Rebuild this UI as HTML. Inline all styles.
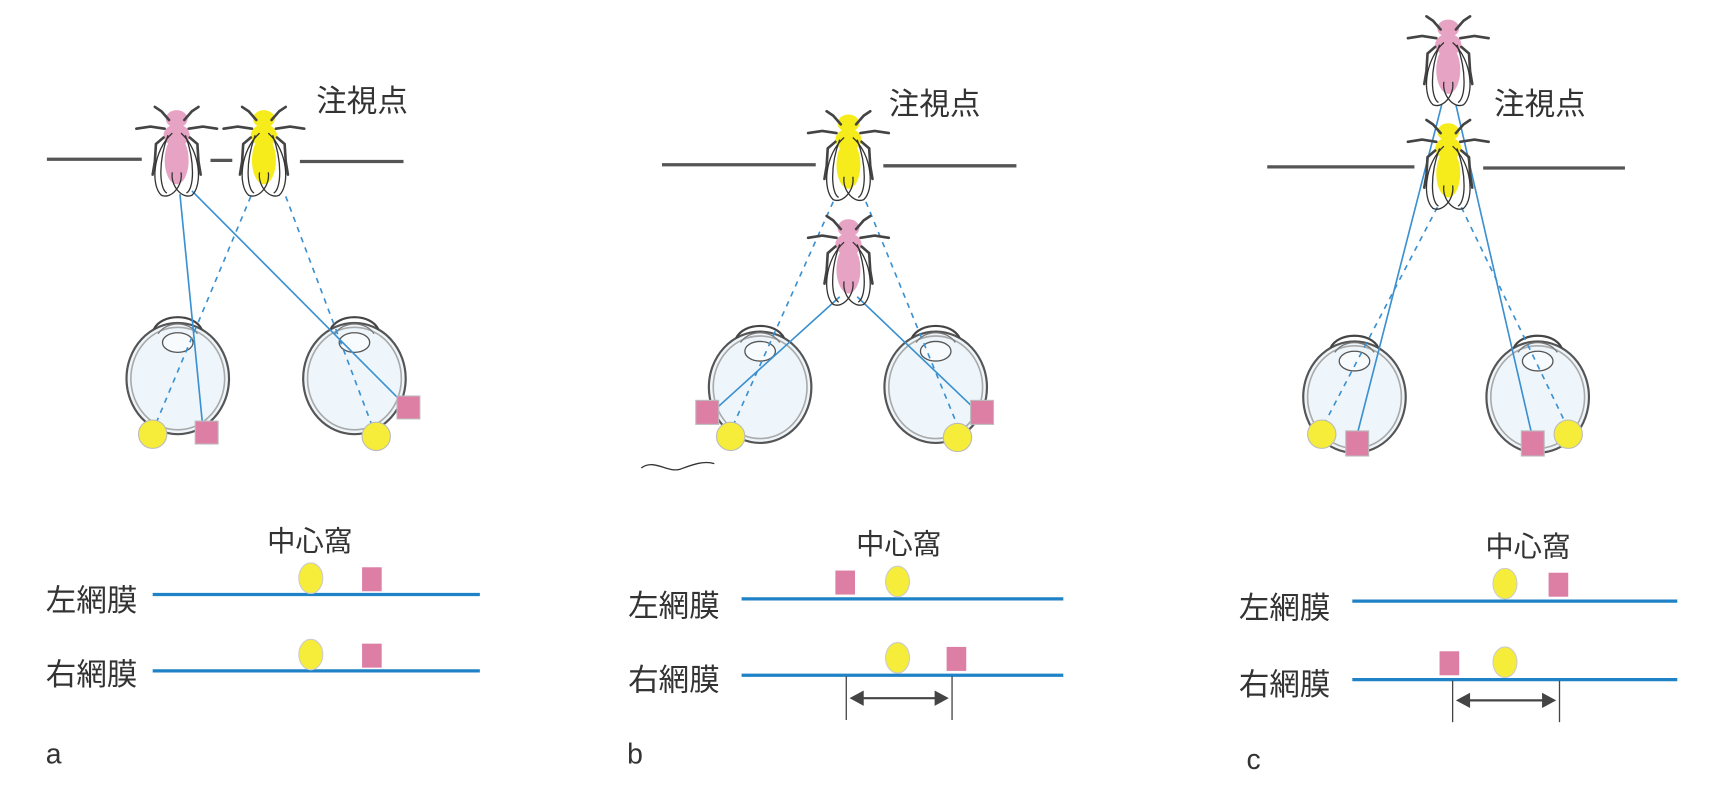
<!DOCTYPE html>
<html><head><meta charset="utf-8"><style>
html,body{margin:0;padding:0;background:#fff;}
svg{display:block;}
text{font-family:"Liberation Sans","Noto Sans CJK JP",sans-serif;fill:#333;}
</style></head><body>
<svg width="1710" height="792" viewBox="0 0 1568 726" preserveAspectRatio="none" xmlns="http://www.w3.org/2000/svg">
<defs>
<g id="flyframe">
  <g stroke="#444" stroke-width="2.4" fill="none" stroke-linecap="round">
    <path d="M-7,-28 L-14,-36 L-20,-40"/><path d="M7,-28 L14,-36 L20,-40"/>
    <path d="M-11,-20 L-24,-22 L-37,-20"/><path d="M11,-20 L24,-22 L37,-20"/>
    <path d="M-12,-12 L-19,-6 L-20,10 L-22,22"/><path d="M12,-12 L19,-6 L20,10 L22,22"/>
  </g>
  <g stroke="#333" stroke-width="1.2" fill="none">
    <path d="M-4,-16 C-22,0 -24,32 -14,41 C-5,45 6,32 4,20"/>
    <path d="M4,-16 C22,0 24,32 14,41 C5,45 -6,32 -4,20"/>
    <path d="M-8,-14 C-17,10 -16,35 -9,39"/>
    <path d="M8,-14 C17,10 16,35 9,39"/>
  </g>
</g>
<g id="eye">
  <ellipse cx="0" cy="0" rx="47" ry="51" fill="#eef6fb" stroke="#555" stroke-width="2"/>
  <ellipse cx="0" cy="0" rx="43" ry="47" fill="none" stroke="#aaa" stroke-width="1.5"/>
  <path d="M-22,-45 C-15,-60 15,-60 22,-45" fill="none" stroke="#444" stroke-width="2"/>
  <path d="M-18,-41 C-10,-53 10,-53 18,-41" fill="none" stroke="#777" stroke-width="1.2"/>
  <ellipse cx="0" cy="-33" rx="14" ry="9" fill="#f8fbfd" stroke="#555" stroke-width="1.2"/>
</g>
<g id="pinkbody"><ellipse cx="0" cy="-29" rx="10" ry="8" fill="#e7a3c3"/><ellipse cx="0" cy="-14" rx="12" ry="10" fill="#e7a3c3"/><ellipse cx="0" cy="9" rx="11" ry="22" fill="#e7a3c3"/></g>
<g id="yellowbody"><ellipse cx="0" cy="-29" rx="10" ry="8" fill="#f6ec1c"/><ellipse cx="0" cy="-14" rx="12" ry="10" fill="#f6ec1c"/><ellipse cx="0" cy="9" rx="11" ry="22" fill="#f6ec1c"/></g>
</defs>

<!-- Panel a -->
<g stroke="#555" stroke-width="3">
<line x1="43" y1="146" x2="130" y2="146"/><line x1="193" y1="147" x2="213" y2="147"/><line x1="275" y1="148" x2="370" y2="148"/>
</g>
<use href="#eye" x="163" y="347"/>
<use href="#eye" x="325" y="347"/>
<g stroke="#3a90d0" stroke-width="1.5" fill="none">
<line x1="165" y1="178" x2="186" y2="392"/>
<line x1="176" y1="175" x2="372" y2="372"/>
<line x1="230" y1="180" x2="141" y2="393" stroke-dasharray="5,5"/>
<line x1="262" y1="180" x2="343" y2="395" stroke-dasharray="5,5"/>
</g>
<g transform="translate(162,138)"><use href="#pinkbody"/><use href="#flyframe"/></g>
<g transform="translate(242,138)"><use href="#yellowbody"/><use href="#flyframe"/></g>
<g stroke="#bbb" stroke-width="1">
<circle cx="140" cy="398" r="13" fill="#f6ec3a"/><rect x="179" y="386" width="21" height="21" fill="#dd7ea5"/>
<circle cx="345" cy="400" r="13" fill="#f6ec3a"/><rect x="364" y="363" width="21" height="21" fill="#dd7ea5"/>
</g>
<text x="290" y="102" font-size="28">注視点</text>
<text x="245" y="505" font-size="26">中心窩</text>
<text x="42" y="560" font-size="28">左網膜</text>
<text x="42" y="628" font-size="28">右網膜</text>
<line x1="140" y1="545" x2="440" y2="545" stroke="#1f82c6" stroke-width="3"/>
<line x1="140" y1="615" x2="440" y2="615" stroke="#1f82c6" stroke-width="3"/>
<ellipse cx="285" cy="530" rx="11" ry="14" fill="#f6ec3a" stroke="#ccc"/><rect x="332" y="520" width="18" height="22" fill="#dd7ea5"/>
<ellipse cx="285" cy="600" rx="11" ry="14" fill="#f6ec3a" stroke="#ccc"/><rect x="332" y="590" width="18" height="22" fill="#dd7ea5"/>
<text x="42" y="700" font-size="26">a</text>

<!-- Panel b -->
<g stroke="#555" stroke-width="3"><line x1="607" y1="151" x2="748" y2="151"/><line x1="810" y1="152" x2="932" y2="152"/></g>
<use href="#eye" x="697" y="355"/>
<use href="#eye" x="858" y="355"/>
<g stroke="#3a90d0" stroke-width="1.5" fill="none">
<line x1="770" y1="272" x2="655" y2="376"/>
<line x1="786" y1="272" x2="895" y2="376"/>
<line x1="764" y1="185" x2="670" y2="395" stroke-dasharray="5,5"/>
<line x1="794" y1="185" x2="880" y2="395" stroke-dasharray="5,5"/>
</g>
<g transform="translate(778,142)"><use href="#yellowbody"/><use href="#flyframe"/></g>
<g transform="translate(778,238)"><use href="#pinkbody"/><use href="#flyframe"/></g>
<g stroke="#bbb" stroke-width="1">
<rect x="638" y="367" width="21" height="22" fill="#dd7ea5"/><circle cx="670" cy="400" r="13" fill="#f6ec3a"/>
<rect x="890" y="367" width="21" height="22" fill="#dd7ea5"/><circle cx="878" cy="401" r="13" fill="#f6ec3a"/>
</g>
<path d="M588,429 C600,420 612,434 624,430 C635,426 645,422 655,425" stroke="#333" stroke-width="1.2" fill="none"/>
<text x="815" y="105" font-size="28">注視点</text>
<text x="785" y="508" font-size="26">中心窩</text>
<text x="576" y="565" font-size="28">左網膜</text>
<text x="576" y="633" font-size="28">右網膜</text>
<line x1="680" y1="549" x2="975" y2="549" stroke="#1f82c6" stroke-width="3"/>
<line x1="680" y1="619" x2="975" y2="619" stroke="#1f82c6" stroke-width="3"/>
<rect x="766" y="523" width="18" height="22" fill="#dd7ea5"/><ellipse cx="823" cy="533" rx="11" ry="14" fill="#f6ec3a" stroke="#ccc"/>
<ellipse cx="823" cy="603" rx="11" ry="14" fill="#f6ec3a" stroke="#ccc"/><rect x="868" y="593" width="18" height="22" fill="#dd7ea5"/>
<g stroke="#444" stroke-width="1.2"><line x1="776" y1="620" x2="776" y2="660"/><line x1="873" y1="620" x2="873" y2="660"/></g>
<line x1="790" y1="640" x2="860" y2="640" stroke="#444" stroke-width="2"/>
<path d="M779,640 L792,633 L792,647Z M870,640 L857,633 L857,647Z" fill="#444"/>
<text x="575" y="700" font-size="26">b</text>

<!-- Panel c -->
<g stroke="#555" stroke-width="3"><line x1="1162" y1="153" x2="1297" y2="153"/><line x1="1360" y1="154" x2="1490" y2="154"/></g>
<use href="#eye" x="1242" y="364"/>
<use href="#eye" x="1410" y="364"/>
<g stroke="#3a90d0" stroke-width="1.5" fill="none">
<line x1="1322" y1="96" x2="1244" y2="400"/>
<line x1="1335" y1="96" x2="1405" y2="400"/>
<line x1="1318" y1="190" x2="1212" y2="393" stroke-dasharray="5,5"/>
<line x1="1340" y1="190" x2="1438" y2="393" stroke-dasharray="5,5"/>
</g>
<g transform="translate(1328,55)"><use href="#pinkbody"/><use href="#flyframe"/></g>
<g transform="translate(1328,150)"><use href="#yellowbody"/><use href="#flyframe"/></g>
<g stroke="#bbb" stroke-width="1">
<circle cx="1212" cy="398" r="13" fill="#f6ec3a"/><rect x="1234" y="395" width="21" height="23" fill="#dd7ea5"/>
<rect x="1395" y="395" width="21" height="23" fill="#dd7ea5"/><circle cx="1438" cy="398" r="13" fill="#f6ec3a"/>
</g>
<text x="1370" y="105" font-size="28">注視点</text>
<text x="1362" y="510" font-size="26">中心窩</text>
<text x="1136" y="567" font-size="28">左網膜</text>
<text x="1136" y="637" font-size="28">右網膜</text>
<line x1="1240" y1="551" x2="1538" y2="551" stroke="#1f82c6" stroke-width="3"/>
<line x1="1240" y1="623" x2="1538" y2="623" stroke="#1f82c6" stroke-width="3"/>
<ellipse cx="1380" cy="535" rx="11" ry="14" fill="#f6ec3a" stroke="#ccc"/><rect x="1420" y="525" width="18" height="22" fill="#dd7ea5"/>
<rect x="1320" y="597" width="18" height="22" fill="#dd7ea5"/><ellipse cx="1380" cy="607" rx="11" ry="14" fill="#f6ec3a" stroke="#ccc"/>
<g stroke="#444" stroke-width="1.2"><line x1="1332" y1="624" x2="1332" y2="662"/><line x1="1430" y1="624" x2="1430" y2="662"/></g>
<line x1="1346" y1="642" x2="1416" y2="642" stroke="#444" stroke-width="2"/>
<path d="M1335,642 L1348,635 L1348,649Z M1427,642 L1414,635 L1414,649Z" fill="#444"/>
<text x="1143" y="705" font-size="26">c</text>
</svg>
</body></html>
